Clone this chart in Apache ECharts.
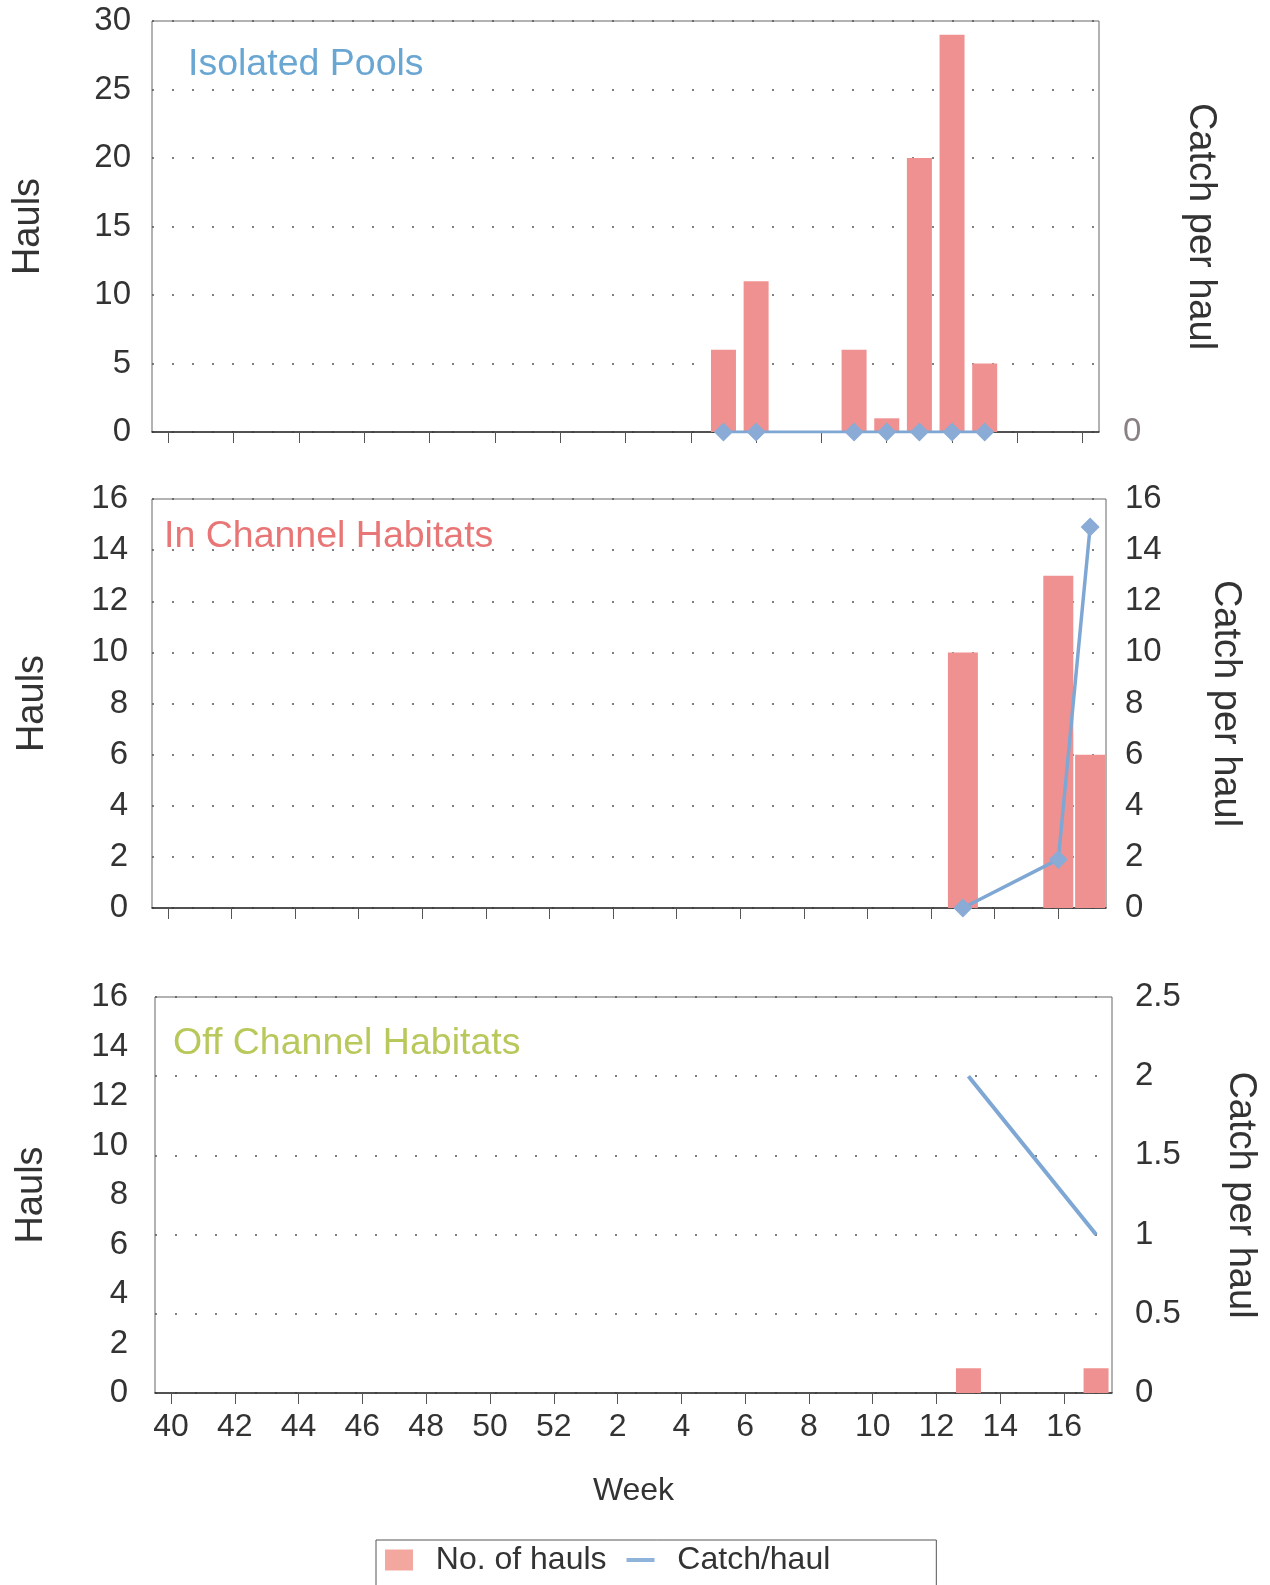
<!DOCTYPE html>
<html>
<head>
<meta charset="utf-8">
<script src="https://cdn.jsdelivr.net/npm/echarts@6/dist/echarts.min.js"></script>
<style>
  html, body { margin: 0; padding: 0; background: #fff; }
  #chart { width: 1270px; height: 1585px; }
</style>
</head>
<body>
<div id="chart"></div>
<script>
// week categories, season runs from week 40 through week 17
const weeks = ['40', '41', '42', '43', '44', '45', '46', '47', '48', '49', '50', '51', '52',
    '1', '2', '3', '4', '5', '6', '7', '8', '9', '10', '11', '12', '13', '14', '15', '16', '17']
const weeksTop = weeks.slice(0, 29) // top panel stops at week 16

// Isolated Pools
const poolWeeks = ['5', '6', '9', '10', '11', '12', '13']
const poolHauls = [6, 11, 6, 1, 20, 29, 5]
const poolCatch = [0, 0, 0, 0, 0, 0, 0]

// In Channel Habitats
const chanWeeks = ['13', '16', '17']
const chanHauls = [10, 13, 6]
const chanCatch = [0, 1.9, 14.9]

// Off Channel Habitats
const offWeeks = ['13', '17']
const offHauls = [1, 1]
const offCatch = [2, 1]

const font = "'Liberation Sans', Arial, sans-serif"
const txt = '#333'
const barColor = '#F09191'
const lineColor = '#7FA7D3'
const dotted = { color: '#555', width: 1.5, type: [2, 18] }

const pairs = (w, v) => w.map((k, i) => [k, v[i]])

const myChart = echarts.init(document.getElementById('chart'))

function xAx (idx, cats, showLabel) {
    return {
        type: 'category',
        gridIndex: idx,
        data: cats,
        boundaryGap: true,
        axisLine: { lineStyle: { color: '#333', width: 1.5 } },
        axisTick: { show: true, interval: 1, alignWithLabel: true, length: 11, lineStyle: { color: '#555' } },
        axisLabel: { show: showLabel, interval: 1, margin: 18, fontSize: 32, color: txt, fontFamily: font },
        name: showLabel ? 'Week' : '',
        nameLocation: 'middle',
        nameGap: 82,
        nameTextStyle: { fontSize: 32, color: txt, fontFamily: font },
        splitLine: { show: false }
    }
}

function leftAx (idx, max, interval, gap, margin, grid) {
    return {
        type: 'value',
        gridIndex: idx,
        position: 'left',
        min: 0,
        max: max,
        interval: interval,
        name: 'Hauls',
        nameLocation: 'middle',
        nameRotate: 90,
        nameGap: gap,
        nameTextStyle: { fontSize: 38, color: txt, fontFamily: font },
        axisLine: { show: false },
        axisTick: { show: false },
        axisLabel: { margin: margin, fontSize: 33, color: txt, fontFamily: font },
        splitLine: { show: grid, lineStyle: dotted }
    }
}

function rightAx (idx, max, interval, gap, margin, onlyZero, grid) {
    return {
        type: 'value',
        gridIndex: idx,
        position: 'right',
        min: 0,
        max: max,
        interval: interval,
        name: 'Catch per haul',
        nameLocation: 'middle',
        nameRotate: -90,
        nameGap: gap,
        nameTextStyle: { fontSize: 38, color: txt, fontFamily: font },
        axisLine: { show: false },
        axisTick: { show: false },
        axisLabel: {
            margin: margin,
            fontSize: 33,
            color: onlyZero ? '#8a8282' : txt,
            fontFamily: font,
            formatter: onlyZero ? (v => (v === 0 ? '0' : '')) : null
        },
        splitLine: { show: grid, lineStyle: dotted }
    }
}

function barS (idx, w, v, width) {
    return {
        name: 'No. of hauls',
        type: 'bar',
        xAxisIndex: idx,
        yAxisIndex: idx * 2,
        barWidth: width,
        itemStyle: { color: barColor },
        data: pairs(w, v)
    }
}

function lineS (idx, w, v, withSymbol, width) {
    return {
        name: 'Catch/haul',
        type: 'line',
        xAxisIndex: idx,
        yAxisIndex: idx * 2 + 1,
        symbol: withSymbol ? 'diamond' : 'none',
        symbolSize: 19,
        showSymbol: withSymbol,
        itemStyle: { color: '#8AABD6' },
        lineStyle: { color: lineColor, width: width },
        z: 5,
        data: pairs(w, v)
    }
}

const gridStyle = { show: true, borderColor: '#666', borderWidth: 1, backgroundColor: 'transparent' }
const titleStyle = { fontSize: 37.5, fontWeight: 'normal', fontFamily: font }

let option = {
    animation: false,
    textStyle: { fontFamily: font },
    title: [
        { text: 'Isolated Pools', left: 188, top: 46, padding: 0, textStyle: Object.assign({ color: '#6AA6D2' }, titleStyle) },
        { text: 'In Channel Habitats', left: 164, top: 518, padding: 0, textStyle: Object.assign({ color: '#E87676' }, titleStyle) },
        { text: 'Off Channel Habitats', left: 173, top: 1025, padding: 0, textStyle: Object.assign({ color: '#B9C85A' }, titleStyle) }
    ],
    legend: {
        left: 376,
        top: 1540,
        padding: [4, 106, 40, 9],
        borderColor: '#555',
        borderWidth: 1,
        itemWidth: 28,
        itemHeight: 21,
        itemGap: 20,
        textStyle: { fontSize: 32, color: txt, fontFamily: font },
        formatter: name => '  ' + name,
        data: [
            { name: 'No. of hauls', icon: 'rect', itemStyle: { color: '#F2A89E' } },
            { name: 'Catch/haul', icon: 'path://M0,0L28,0L28,4L0,4Z', itemStyle: { color: '#8FB3DA' } }
        ]
    },
    grid: [
        Object.assign({ left: 152, width: 947, top: 21, height: 411 }, gridStyle),
        Object.assign({ left: 152, width: 954, top: 499, height: 409 }, gridStyle),
        Object.assign({ left: 155, width: 957, top: 997, height: 396 }, gridStyle)
    ],
    xAxis: [
        xAx(0, weeksTop, false),
        xAx(1, weeks, false),
        xAx(2, weeks, true)
    ],
    yAxis: [
        leftAx(0, 30, 5, 104, 21, true),
        rightAx(0, 1, 1, 82, 24, true, false),
        leftAx(1, 16, 2, 100, 24, true),
        rightAx(1, 16, 2, 100, 19, false, false),
        leftAx(2, 16, 2, 104, 27, false),
        // bottom panel gridlines follow the catch axis
        rightAx(2, 2.5, 0.5, 109, 23, false, true)
    ],
    series: [
        barS(0, poolWeeks, poolHauls, 25),
        lineS(0, poolWeeks, poolCatch, true, 3),
        barS(1, chanWeeks, chanHauls, 30),
        lineS(1, chanWeeks, chanCatch, true, 3.5),
        barS(2, offWeeks, offHauls, 25),
        lineS(2, offWeeks, offCatch, false, 4)
    ]
}

myChart.setOption(option, true)
</script>
</body>
</html>
